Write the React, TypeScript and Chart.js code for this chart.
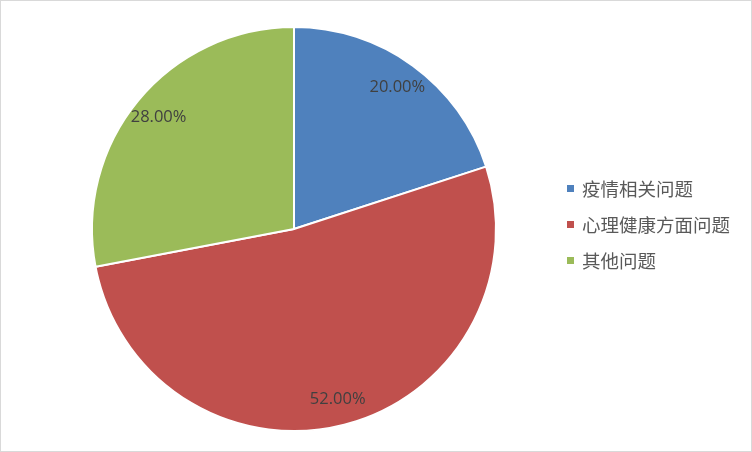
import React, { useEffect, useRef } from "react";
import { Chart, registerables } from "chart.js";

Chart.register(...registerables);

const categories = ["疫情相关问题", "心理健康方面问题", "其他问题"];
const values = [20, 52, 28];
const valueLabels = ["20.00%", "52.00%", "28.00%"];
const colors = ["#4F81BD", "#C0504D", "#9BBB59"];

const labelPlugin = {
  id: "pieLabels",
  afterDatasetsDraw(chart: any) {
    const ctx = chart.ctx;
    const meta = chart.getDatasetMeta(0);
    ctx.save();
    ctx.font = '16.5px "Open Sans", "Noto Sans", sans-serif';
    ctx.fillStyle = "#404040";
    ctx.textAlign = "center";
    ctx.textBaseline = "middle";
    meta.data.forEach((arc: any, i: number) => {
      const p = arc.getProps(["x", "y", "startAngle", "endAngle", "outerRadius"], true);
      const mid = (p.startAngle + p.endAngle) / 2;
      const r = p.outerRadius * 0.87;
      ctx.fillText(valueLabels[i], p.x + Math.cos(mid) * r, p.y + Math.sin(mid) * r);
    });
    // legend
    ctx.font = '18.5px "Noto Sans CJK SC", sans-serif';
    ctx.textAlign = "left";
    const lx = 566;
    const ly0 = 187;
    const step = 36;
    categories.forEach((c, i) => {
      const y = ly0 + i * step;
      ctx.fillStyle = colors[i];
      ctx.fillRect(lx, y - 3, 7, 7);
      ctx.fillStyle = "#595959";
      ctx.fillText(c, lx + 15, y + 1);
    });
    ctx.restore();
  },
};

export default function App() {
  const ref = useRef<HTMLCanvasElement>(null);
  useEffect(() => {
    document.body.style.margin = "0";
    const chart = new Chart(ref.current!, {
      type: "pie",
      data: {
        labels: categories,
        datasets: [
          {
            data: values,
            backgroundColor: colors,
            borderColor: "#ffffff",
            borderWidth: 2,
          },
        ],
      },
      options: {
        animation: false,
        responsive: false,
        events: [],
        layout: { padding: { left: 90, right: 254, top: 25, bottom: 19 } },
        plugins: { legend: { display: false }, tooltip: { enabled: false } },
      },
      plugins: [labelPlugin],
    });
    return () => chart.destroy();
  }, []);
  return (
    <div
      style={{
        position: "fixed",
        left: 0,
        top: 0,
        width: 752,
        height: 452,
        boxSizing: "border-box",
        border: "1px solid #d9d9d9",
        background: "#fff",
        overflow: "hidden",
      }}
    >
      <canvas ref={ref} width={750} height={450} style={{ display: "block" }} />
    </div>
  );
}
